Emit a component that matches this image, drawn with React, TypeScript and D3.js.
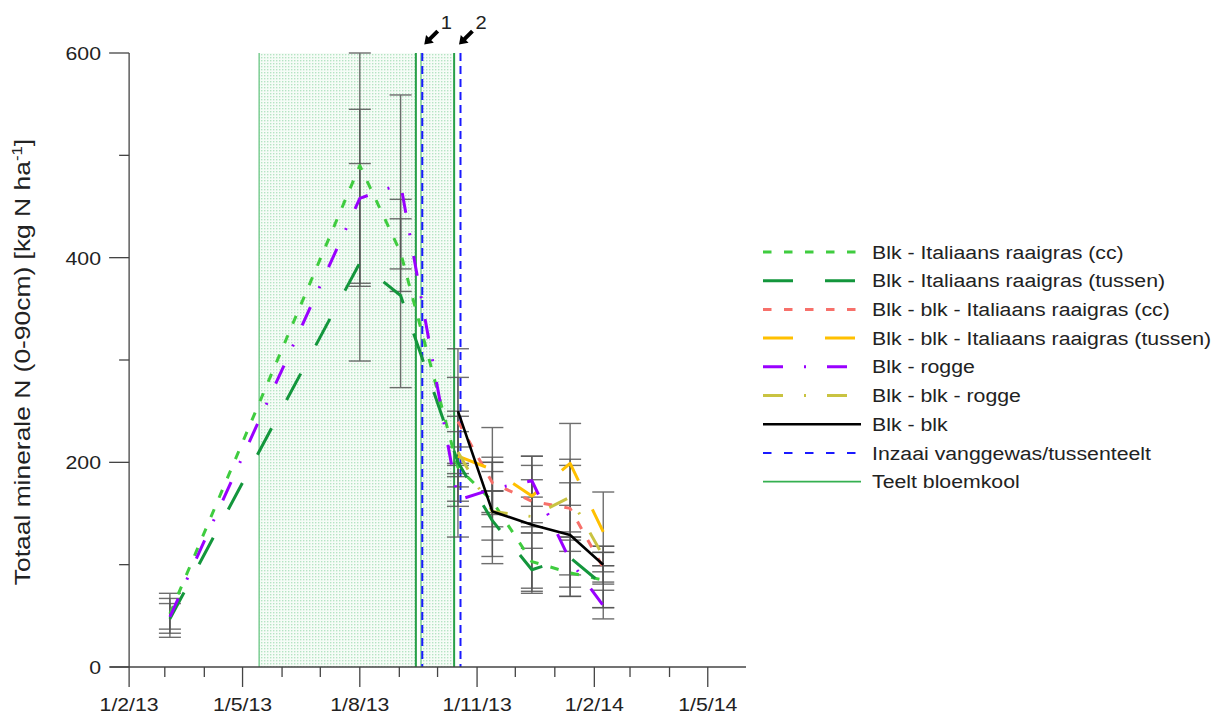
import React from 'react';
import * as d3 from 'd3';

// Sampling dates (d/m/yy on the axis)
const sampleDates = ['2013-03-05', '2013-08-01', '2013-09-02', '2013-10-17', '2013-11-13', '2013-12-14', '2014-01-13', '2014-02-08'];

// Mineral N (kg N/ha) per treatment; null = not sampled
const blkItCc = [52, 490, 405, 195, 162, 103, 92, 85];
const blkItTussen = [47, 395, 363, 200, 143, 95, 107, 80];
const blkBlkItCc = [null, null, null, 240, 180, 162, 155, 97];
const blkBlkItTussen = [null, null, null, 206, 193, 167, 199, 132];
const blkRogge = [49, 458, 472, 163, 174, 182, 104, 60];
const blkBlkRogge = [null, null, null, 210, 152, 147, 166, 108];
const blkBlk = [null, null, null, 250, 152, 139, 129, 100];

// Error bars [low, high]
const blkItCcErr = [[33, 72], [375, 600], [367, 438], [157, 230], [124, 200], [77, 131], [69, 113], [58, 112]];
const blkItTussenErr = [[29, 67], [299, 492], [273, 457], [186, 215], [108, 172], [74, 116], [90, 124], [58, 99]];
const blkBlkItCcErr = [null, null, null, [197, 283], [172, 191], [141, 183], [127, 180], [81, 112]];
const blkBlkItTussenErr = [null, null, null, [162, 250], [151, 234], [137, 197], [158, 238], [93, 171]];
const blkRoggeErr = [[37, 62], [372, 545], [389, 559], [127, 199], [149, 200], [157, 206], [78, 127], [47, 75]];
const blkBlkRoggeErr = [null, null, null, [176, 245], [137, 172], [131, 166], [132, 203], [99, 118]];
const blkBlkErr = [null, null, null, [189, 311], [101, 205], [72, 206], [69, 197], [83, 118]];

// Cauliflower cultivation periods and catch crop sowing dates
const teeltPeriods = [['2013-05-14', '2013-09-14'], ['2013-09-18', '2013-10-14']];
const inzaaiDates = ['2013-09-19', '2013-10-19'];
const inzaaiLabels = ['1', '2'];

const yTickValues = [0, 100, 200, 300, 400, 500, 600];

const parse = d3.timeParse('%Y-%m-%d');
const fmt = d3.timeFormat('%-d/%-m/%y');

const FONT = '"Liberation Sans", Arial, sans-serif';
const SX = 1.12;
const AXIS = '#444';
const ERR = '#555';

const series = [
  { name: 'Blk - Italiaans raaigras (cc)', values: blkItCc, err: blkItCcErr, color: '#3fcc3f', dash: '8.5,12.5', w: 3 },
  { name: 'Blk - Italiaans raaigras (tussen)', values: blkItTussen, err: blkItTussenErr, color: '#13963c', dash: '30,32', w: 3 },
  { name: 'Blk - blk - Italiaans raaigras (cc)', values: blkBlkItCc, err: blkBlkItCcErr, color: '#f7706a', dash: '8.5,12.5', w: 3 },
  { name: 'Blk - blk - Italiaans raaigras (tussen)', values: blkBlkItTussen, err: blkBlkItTussenErr, color: '#ffc000', dash: '30,32', w: 3 },
  { name: 'Blk - rogge', values: blkRogge, err: blkRoggeErr, color: '#9900ff', dash: '20,21,2,21', w: 3 },
  { name: 'Blk - blk - rogge', values: blkBlkRogge, err: blkBlkRoggeErr, color: '#c9c341', dash: '20,21,2,21', w: 3 },
  { name: 'Blk - blk', values: blkBlk, err: blkBlkErr, color: '#000000', dash: null, w: 2.6 },
];

const legendExtra = [
  { name: 'Inzaai vanggewas/tussenteelt', color: '#1a1aff', dash: '8.5,12.5', w: 2 },
  { name: 'Teelt bloemkool', color: '#34b050', dash: null, w: 1.6 },
];

function SText({ x, y, children, anchor = 'start', size = 19, dy = 0 }) {
  return (
    <text
      transform={`translate(${x},${y}) scale(${SX},1)`}
      textAnchor={anchor}
      dy={dy}
      fontSize={size}
      fontFamily={FONT}
      fill="#222"
    >
      {children}
    </text>
  );
}

export default function App() {
  const x = d3.scaleTime().domain([parse('2013-01-17'), parse('2014-05-31')]).range([110, 746]);
  const y = d3.scaleLinear().domain([0, 600]).range([667, 53]);
  const dates = sampleDates.map((s) => parse(s));

  const line = d3
    .line<[Date, number | null]>()
    .defined((d) => d[1] != null)
    .x((d) => x(d[0]))
    .y((d) => y(d[1] as number));

  const months = d3.timeMonth.range(parse('2013-02-01'), parse('2014-06-01'));
  const top = y(600);
  const bottom = y(0);
  const cap = 11;

  const legendY0 = 252;
  const legendStep = 28.7;
  const legendItems = [...series, ...legendExtra];

  const arrowShape = '0,0 -8,-5.5 -8,-2 -19,-2 -19,2 -8,2 -8,5.5';

  return (
    <svg width={1220} height={720} style={{ position: 'absolute', left: 0, top: 0, background: '#fff' }}>
      <defs>
        <pattern id="stipple" width="3" height="3" patternUnits="userSpaceOnUse">
          <rect width="3" height="3" fill="#f6fcf7" />
          <rect width="1.4" height="1.4" fill="#66c685" opacity="0.45" />
        </pattern>
      </defs>

      {/* cauliflower cultivation periods */}
      {teeltPeriods.map(([a, b], i) => {
        const x0 = x(parse(a));
        const x1 = x(parse(b));
        return (
          <g key={`tp${i}`}>
            <rect x={x0} y={top} width={x1 - x0} height={bottom - top} fill="url(#stipple)" />
            <line x1={x0} x2={x0} y1={top} y2={bottom} stroke="#5ec27a" strokeWidth={1.2} />
            <line x1={x1} x2={x1} y1={top} y2={bottom} stroke="#28a048" strokeWidth={2} />
          </g>
        );
      })}

      {/* catch crop sowing */}
      {inzaaiDates.map((s, i) => {
        const xv = x(parse(s));
        return (
          <line key={`iz${i}`} x1={xv} x2={xv} y1={top} y2={bottom} stroke="#1a1aff" strokeWidth={2} strokeDasharray="8,5" />
        );
      })}

      {/* arrows with numbers */}
      {inzaaiDates.map((s, i) => {
        const xv = x(parse(s));
        const tipX = i === 0 ? xv + 2 : xv - 1.5;
        return (
          <g key={`ar${i}`}>
            <polygon points={arrowShape} fill="#000" transform={`translate(${tipX},44.5) rotate(135)`} />
            <SText x={tipX + 22} y={29} anchor="middle" size={18}>
              {inzaaiLabels[i]}
            </SText>
          </g>
        );
      })}

      {/* axes */}
      <line x1={110} x2={746} y1={bottom} y2={bottom} stroke={AXIS} strokeWidth={1.3} />
      <line x1={x(parse('2013-02-01'))} x2={x(parse('2013-02-01'))} y1={top} y2={bottom} stroke={AXIS} strokeWidth={1.3} />
      {months.map((m, i) => {
        const major = m.getMonth() % 3 === 1;
        const xv = x(m);
        return (
          <g key={`mx${i}`}>
            <line x1={xv} x2={xv} y1={bottom} y2={bottom + (major ? 20 : 10)} stroke={AXIS} strokeWidth={1.3} />
            {major && (
              <SText x={xv} y={711} anchor="middle">
                {fmt(m)}
              </SText>
            )}
          </g>
        );
      })}
      {yTickValues.map((v) => {
        const major = v % 200 === 0;
        const x0 = x(parse('2013-02-01'));
        return (
          <g key={`yt${v}`}>
            <line x1={x0 - (major ? 20 : 10)} x2={x0} y1={y(v)} y2={y(v)} stroke={AXIS} strokeWidth={1.3} />
            {major && (
              <SText x={101} y={y(v) + 7} anchor="end">
                {v}
              </SText>
            )}
          </g>
        );
      })}
      <text
        transform="translate(30,362) rotate(-90) scale(1.2,1.02)"
        textAnchor="middle"
        fontSize={22}
        fontFamily={FONT}
        fill="#222"
      >
        Totaal minerale N (0-90cm) [kg N ha
        <tspan fontSize={14} dy={-8}>
          -1
        </tspan>
        <tspan dy={8}>]</tspan>
      </text>

      {/* error bars */}
      {series.map((s, si) => (
        <g key={`eb${si}`}>
          {s.err.map((e, i) => {
            if (!e) return null;
            const xv = x(dates[i]);
            return (
              <g key={i} stroke={ERR} strokeWidth={1.4} opacity={0.85}>
                <line x1={xv} x2={xv} y1={y(e[0])} y2={y(e[1])} />
                <line x1={xv - cap} x2={xv + cap} y1={y(e[0])} y2={y(e[0])} />
                <line x1={xv - cap} x2={xv + cap} y1={y(e[1])} y2={y(e[1])} />
              </g>
            );
          })}
        </g>
      ))}

      {/* treatment lines */}
      {series.map((s, si) => (
        <path
          key={`ln${si}`}
          d={line(dates.map((d, i) => [d, s.values[i]]) as [Date, number | null][]) || ''}
          fill="none"
          stroke={s.color}
          strokeWidth={s.w}
          strokeDasharray={s.dash || undefined}
          strokeLinejoin="round"
        />
      ))}

      {/* legend */}
      {legendItems.map((it, i) => {
        const ly = legendY0 + i * legendStep;
        return (
          <g key={`lg${i}`}>
            <line x1={763} x2={861} y1={ly} y2={ly} stroke={it.color} strokeWidth={it.w} strokeDasharray={it.dash || undefined} />
            <SText x={872} y={ly} dy="0.35em">
              {it.name}
            </SText>
          </g>
        );
      })}
    </svg>
  );
}
